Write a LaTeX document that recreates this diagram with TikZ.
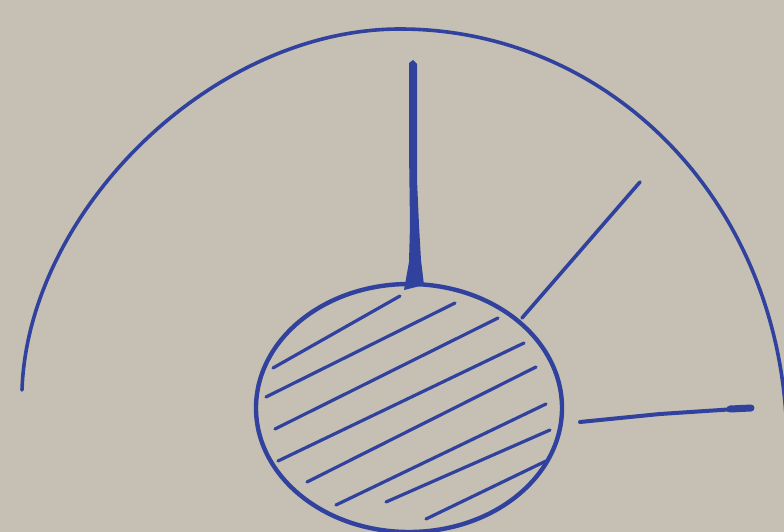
\documentclass[tikz,border=0pt]{standalone}
\begin{document}
\begin{tikzpicture}[x=1pt,y=-1pt,
  pen/.style={draw=penblue,line width=3.6pt,line cap=round,line join=round},
  hatch/.style={draw=penblue,line width=3.2pt,line cap=round}]
\definecolor{paper}{RGB}{197,192,179}
\definecolor{penblue}{RGB}{48,66,158}
\fill[paper] (0,0) rectangle (784,532);
\useasboundingbox (0,0) rectangle (784,532);
% big arc
\coordinate (arcL) at (22,390);
\coordinate (arcT) at (400,29);
\coordinate (arcR) at (787,445);
\draw[pen] (arcL) .. controls (28,212) and (211,29) .. (arcT)
  .. controls (611,29) and (786,205) .. (arcR);
% hatched circle
\draw[pen,line width=4.4pt] (409,408) ellipse[x radius=153,y radius=124];
\foreach \a/\b in {{(273,368)}/{(400,296)},{(266,397)}/{(455,303)},{(275,429)}/{(498,318)},
  {(278,461)}/{(524,343)},{(307,482)}/{(536,367)},{(336,505)}/{(546,404)},
  {(386,502)}/{(550,430)},{(426,519)}/{(546,461)}}
  \draw[hatch] \a -- \b;
% vertical stroke (tapered, thicker near the circle)
\fill[penblue] (409,63) -- (413,60) -- (417,64) -- (417,180) -- (419,225) -- (421,260)
  -- (424,285) -- (404,290) -- (409,262) -- (410,225) -- (409,150) -- cycle;
% diagonal stroke
\draw[pen,line width=3.6pt] (640,182) -- (522,318);
% right stroke
\draw[pen,line width=4pt] (580,422) -- (660,414) -- (751,408);
\draw[penblue,line width=7pt,line cap=round] (730,409) -- (751,408);
\end{tikzpicture}
\end{document}
